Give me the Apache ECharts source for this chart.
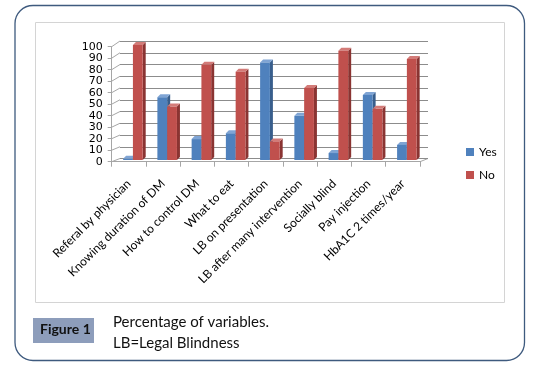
<!DOCTYPE html>
<html>
<head>
<meta charset="utf-8">
<script src="https://cdn.jsdelivr.net/npm/echarts@6/dist/echarts.min.js"></script>
<style>
html,body{margin:0;padding:0;background:#fff;}
#c{width:539px;height:366px;}
</style>
</head>
<body>
<div id="c"></div>
<script>
const categories = ["Referal by physician","Knowing duration of DM","How to control DM","What to eat","LB on presentation","LB after many intervention","Socially blind","Pay injection","HbA1C 2 times/year"];
const yesValues = [1, 54, 18, 23, 84, 38, 6, 56, 13];
const noValues = [99, 46, 82, 76, 16, 62, 94, 44, 87];
const yTicks = [0,10,20,30,40,50,60,70,80,90,100];

// front plane
const F = {l:111.7, r:420, t:46.7, b:161.7};
// back wall
const B = {l:120, r:428, t:41, b:158.5};
// mid plane (bars)
const M = {l:115.8, r:424, t:43.8, b:160};

const chart = echarts.init(document.getElementById('c'), null, {renderer:'canvas'});

const faceCols = [
  {front:'#4f81bd', top:'#7fa4d4', side:'#385e8c'},
  {front:'#c0504d', top:'#d37b78', side:'#8a3432'}
];

function makeRender(si){
  return function(params, api){
    const i = api.value(0), v = api.value(1);
    const top = api.coord([i, v]);
    const base = api.coord([i, 0]);
    const cw = api.size([1,0])[0];
    const bw = cw/3.5;
    const x0 = si === 0 ? top[0]-bw : top[0];
    const dx = 3, dy = 3;
    const c = faceCols[si];
    return {
      type:'group',
      children:[
        {type:'polygon', shape:{points:[[x0+bw,top[1]],[x0+bw+dx,top[1]-dy],[x0+bw+dx,base[1]-dy],[x0+bw,base[1]]]}, style:{fill:c.side}},
        {type:'polygon', shape:{points:[[x0,top[1]],[x0+dx,top[1]-dy],[x0+bw+dx,top[1]-dy],[x0+bw,top[1]]]}, style:{fill:c.top}},
        {type:'rect', shape:{x:x0, y:top[1], width:bw, height:Math.max(0,base[1]-top[1])}, style:{fill:c.front}}
      ]
    };
  };
}

// decorative left-wall diagonals and floor edge
const deco = [];
yTicks.forEach(v=>{
  const yf = F.b - (F.b-F.t)*v/100;
  const yb = B.b - (B.b-B.t)*v/100;
  deco.push({type:'line', shape:{x1:F.l, y1:yf, x2:B.l, y2:yb}, style:{stroke:'#a6a6a6', lineWidth:1}, silent:true});
});
deco.push({type:'line', shape:{x1:F.r, y1:F.b, x2:B.r, y2:B.b}, style:{stroke:'#a6a6a6', lineWidth:1}, silent:true});

const option = {
  animation:false,
  backgroundColor:'#fff',
  grid:[
    {left:F.l, top:F.t, width:F.r-F.l, height:F.b-F.t},
    {left:B.l, top:B.t, width:B.r-B.l, height:B.b-B.t},
    {left:M.l, top:M.t, width:M.r-M.l, height:M.b-M.t}
  ],
  xAxis:[
    {type:'category', gridIndex:0, data:categories,
     axisLine:{show:true, lineStyle:{color:'#a6a6a6'}},
     axisTick:{show:true, length:5, interval:0, lineStyle:{color:'#a6a6a6'}},
     axisLabel:{rotate:45, interval:0, margin:20, fontFamily:'Lato', fontSize:12, color:'#000'},
     splitLine:{show:false}},
    {type:'category', gridIndex:1, data:categories, show:false},
    {type:'category', gridIndex:2, data:categories, show:false}
  ],
  yAxis:[
    {type:'value', gridIndex:0, min:0, max:100, interval:10,
     axisLine:{show:true, lineStyle:{color:'#a6a6a6'}},
     axisTick:{show:true, length:4, lineStyle:{color:'#a6a6a6'}},
     axisLabel:{margin:9, fontFamily:'DejaVu Sans', fontSize:11, color:'#000'},
     splitLine:{show:false}},
    {type:'value', gridIndex:1, min:0, max:100, interval:10,
     axisLine:{show:false}, axisTick:{show:false}, axisLabel:{show:false},
     splitLine:{show:true, lineStyle:{color:'#8c8c8c', width:1}}},
    {type:'value', gridIndex:2, min:0, max:100, interval:10, show:false, splitLine:{show:false}}
  ],
  legend:{
    data:['Yes','No'], orient:'vertical', left:461, top:141,
    icon:'rect', itemWidth:8, itemHeight:8, itemGap:11,
    textStyle:{fontFamily:'Lato', fontSize:12, color:'#000'}
  },
  series:[
    {name:'Yes', type:'custom', xAxisIndex:2, yAxisIndex:2, renderItem:makeRender(0),
     itemStyle:{color:'#4f81bd'}, encode:{x:0,y:1},
     data:yesValues.map((v,i)=>[i,v]), z:5},
    {name:'No', type:'custom', xAxisIndex:2, yAxisIndex:2, renderItem:makeRender(1),
     itemStyle:{color:'#c0504d'}, encode:{x:0,y:1},
     data:noValues.map((v,i)=>[i,v]), z:6}
  ],
  graphic:[
    {type:'rect', shape:{x:15, y:5.5, width:509.5, height:355, r:18}, style:{fill:'none', stroke:'#3e5a7e', lineWidth:1.3}, silent:true, z:-1},
    {type:'rect', shape:{x:35.5, y:22.5, width:469, height:280}, style:{fill:'none', stroke:'#d4d4d4', lineWidth:1}, silent:true, z:-1},
    {type:'rect', shape:{x:33, y:318, width:61, height:25}, style:{fill:'#8d9dbb'}, silent:true},
    {type:'text', left:40, top:322, style:{text:'Figure 1', font:'bold 14px Lato', fill:'#111'}, silent:true},
    {type:'text', left:113, top:315, style:{text:'Percentage of variables.', font:'15px Lato', fill:'#111'}, silent:true},
    {type:'text', left:113, top:336, style:{text:'LB=Legal Blindness', font:'15px Lato', fill:'#111'}, silent:true}
  ].concat(deco)
};
chart.setOption(option);
</script>
</body>
</html>
